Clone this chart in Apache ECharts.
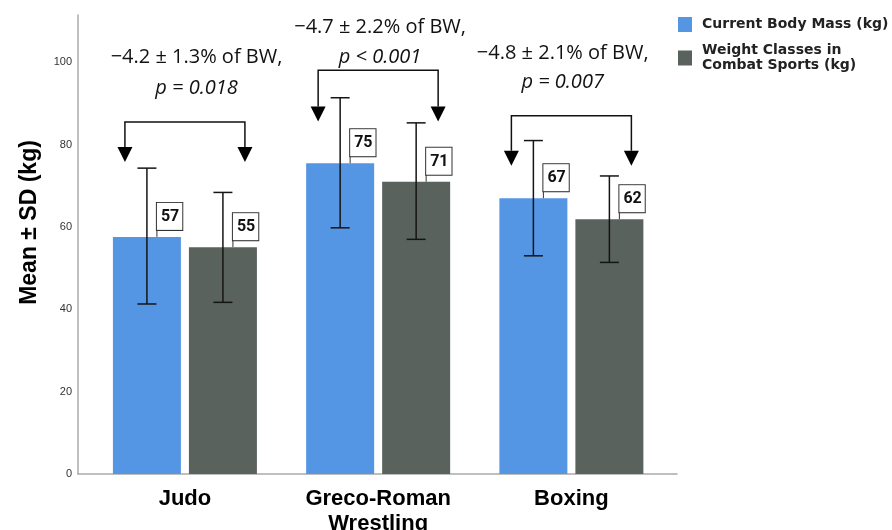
<!DOCTYPE html>
<html>
<head>
<meta charset="utf-8">
<script src="https://cdn.jsdelivr.net/npm/echarts@6/dist/echarts.min.js"></script>
<style>html,body{margin:0;padding:0;background:#fff}#c{width:892px;height:530px}</style>
</head>
<body>
<div id="c"></div>
<script>
// ---- data ----
const categories = ['Judo', 'Greco-Roman\nWrestling', 'Boxing'];
const seriesNames = ['Current Body Mass (kg)', 'Weight Classes in\nCombat Sports (kg)'];
const currentMass = [57.6, 75.5, 67.0];
const weightClass = [55.1, 71.0, 61.9];
const currentUpper = [74.3, 91.4, 81.0];
const currentLower = [41.3, 59.8, 53.0];
const classUpper = [68.4, 85.3, 72.4];
const classLower = [41.7, 57.0, 51.4];
const currentLabels = [57, 75, 67];
const classLabels = [55, 71, 62];
const annotLine1 = ['\u22124.2 \u00b1 1.3% of BW,', '\u22124.7 \u00b1 2.2% of BW,', '\u22124.8 \u00b1 2.1% of BW,'];
const annotLine2 = ['p = 0.018', 'p < 0.001', 'p = 0.007'];
const annotY1 = [101.3, 108.6, 102.3];
const annotY2 = [93.8, 101.3, 95.2];
const bracketTop = [85.5, 98.1, 87.0];
const arrowTip = [75.8, 85.6, 74.9];
const annotShift = [0.06, 0.01, -0.045];
const yMin = 0, yMax = 111.5, yInterval = 20;

// ---- layout constants ----
const BAR_W = 68, BAR_GAP = 8;
const HALF = (BAR_W + BAR_GAP) / 2;
const COLORS = ['#5596e4', '#5a625d'];

const chart = echarts.init(document.getElementById('c'));

const errData = [];
const lblData = [];
for (let i = 0; i < categories.length; i++) {
  errData.push([i, currentLower[i], currentUpper[i], 0]);
  errData.push([i, classLower[i], classUpper[i], 1]);
  lblData.push([i, currentMass[i], currentLabels[i], 0]);
  lblData.push([i, weightClass[i], classLabels[i], 1]);
}
const annData = categories.map((c, i) => [i, annotY1[i], annotY2[i], bracketTop[i], arrowTip[i], annotShift[i]]);

function barX(api, cat, s) {
  const cx = api.coord([cat, 0])[0];
  return cx + (s === 0 ? -HALF : HALF);
}

const option = {
  animation: false,
  backgroundColor: '#fff',
  legend: {
    orient: 'vertical',
    left: 678, top: 17, padding: 0,
    itemWidth: 14, itemHeight: 15, itemGap: 11,
    icon: 'rect',
    data: seriesNames,
    textStyle: { fontFamily: 'DejaVu Sans', fontWeight: 'bold', fontSize: 14, color: '#222', lineHeight: 15,
      padding: [0, 0, 0, 5] }
  },
  grid: [
    { left: 78, right: 215, top: 15, bottom: 56, outerBoundsMode: 'none', containLabel: false },
    { left: 88.3, right: 224, top: 15, bottom: 56, outerBoundsMode: 'none', containLabel: false }
  ],
  xAxis: [
    { gridIndex: 0, type: 'value', min: 0, max: 1,
      axisLine: { show: true, lineStyle: { color: '#aaaaaa', width: 1.5 } },
      axisTick: { show: false }, axisLabel: { show: false }, splitLine: { show: false } },
    { gridIndex: 1, type: 'category', data: categories,
      axisLine: { show: false }, axisTick: { show: false },
      axisLabel: { margin: 12, fontFamily: 'Liberation Sans', fontWeight: 'bold', fontSize: 22, lineHeight: 25, color: '#000' } }
  ],
  yAxis: [
    { gridIndex: 0, type: 'value', min: yMin, max: yMax, interval: yInterval,
      axisLine: { show: true, lineStyle: { color: '#aaaaaa', width: 1.5 } },
      axisTick: { show: false }, splitLine: { show: false },
      axisLabel: { margin: 6, fontFamily: 'Liberation Sans', fontSize: 11, color: '#333',
        showMaxLabel: false } },
    { gridIndex: 1, type: 'value', min: yMin, max: yMax, interval: yInterval, show: false }
  ],
  graphic: [
    { type: 'text', x: 30, y: 222.5, rotation: Math.PI / 2,
      style: { text: 'Mean \u00b1 SD (kg)', fontFamily: 'Liberation Sans', fontWeight: 'bold', fontSize: 23,
        fill: '#000', align: 'center', verticalAlign: 'middle' } }
  ],
  series: [
    { name: seriesNames[0], type: 'bar', xAxisIndex: 1, yAxisIndex: 1, data: currentMass,
      barWidth: BAR_W, barGap: (BAR_GAP / BAR_W * 100) + '%', itemStyle: { color: COLORS[0] } },
    { name: seriesNames[1], type: 'bar', xAxisIndex: 1, yAxisIndex: 1, data: weightClass,
      barWidth: BAR_W, barGap: (BAR_GAP / BAR_W * 100) + '%', itemStyle: { color: COLORS[1] } },
    { type: 'custom', xAxisIndex: 1, yAxisIndex: 1, data: errData, z: 5, silent: true,
      renderItem: function (params, api) {
        const cat = api.value(0), lo = api.value(1), hi = api.value(2), s = api.value(3);
        const x = barX(api, cat, s);
        const yl = api.coord([cat, lo])[1], yh = api.coord([cat, hi])[1];
        const cap = 9.5;
        const st = { stroke: '#151515', lineWidth: 1.5 };
        return { type: 'group', children: [
          { type: 'line', shape: { x1: x, y1: yl, x2: x, y2: yh }, style: st },
          { type: 'line', shape: { x1: x - cap, y1: yh, x2: x + cap, y2: yh }, style: st },
          { type: 'line', shape: { x1: x - cap, y1: yl, x2: x + cap, y2: yl }, style: st }
        ] };
      } },
    { type: 'custom', xAxisIndex: 1, yAxisIndex: 1, data: lblData, z: 6, silent: true,
      renderItem: function (params, api) {
        const cat = api.value(0), v = api.value(1), lab = api.value(2), s = api.value(3);
        const x = barX(api, cat, s) + 10;
        const yTop = api.coord([cat, v])[1];
        const yb = yTop - 7;
        return { type: 'group', children: [
          { type: 'line', shape: { x1: x, y1: yb, x2: x, y2: yTop }, style: { stroke: '#333', lineWidth: 1 } },
          { type: 'text', x: x, y: yb,
            style: { text: String(lab), fontFamily: 'Roboto', fontWeight: 'bold', fontSize: 16, fill: '#111',
              align: 'left', verticalAlign: 'bottom', backgroundColor: '#fff', borderColor: '#333', borderWidth: 1,
              padding: [6, 3, 5, 4] } }
        ] };
      } },
    { type: 'custom', xAxisIndex: 1, yAxisIndex: 1, data: annData, z: 6, silent: true,
      renderItem: function (params, api) {
        const i = params.dataIndex;
        const cat = api.value(0);
        const band = api.size([1, 0])[0];
        const cx = api.coord([cat, 0])[0];
        const tx = cx + api.value(5) * band;
        const y1 = api.coord([cat, api.value(1)])[1];
        const y2 = api.coord([cat, api.value(2)])[1];
        const yt = api.coord([cat, api.value(3)])[1];
        const ytip = api.coord([cat, api.value(4)])[1];
        const xl = barX(api, cat, 0) - 22, xr = barX(api, cat, 1) + 22;
        const ah = 15, aw = 7.5;
        const st = { stroke: '#111', lineWidth: 1.5, fill: null };
        return { type: 'group', children: [
          { type: 'polyline', shape: { points: [[xl, ytip - ah], [xl, yt], [xr, yt], [xr, ytip - ah]] }, style: st },
          { type: 'polygon', shape: { points: [[xl - aw, ytip - ah], [xl + aw, ytip - ah], [xl, ytip]] }, style: { fill: '#000' } },
          { type: 'polygon', shape: { points: [[xr - aw, ytip - ah], [xr + aw, ytip - ah], [xr, ytip]] }, style: { fill: '#000' } },
          { type: 'text', x: tx, y: y1, style: { text: annotLine1[i], fontFamily: 'Open Sans', fontSize: 20, fill: '#111',
              align: 'center', verticalAlign: 'middle' } },
          { type: 'text', x: tx, y: y2, style: { text: annotLine2[i], fontFamily: 'Open Sans', fontStyle: 'italic', fontSize: 20, fill: '#111',
              align: 'center', verticalAlign: 'middle' } }
        ] };
      } }
  ]
};
chart.setOption(option);
</script>
</body>
</html>
